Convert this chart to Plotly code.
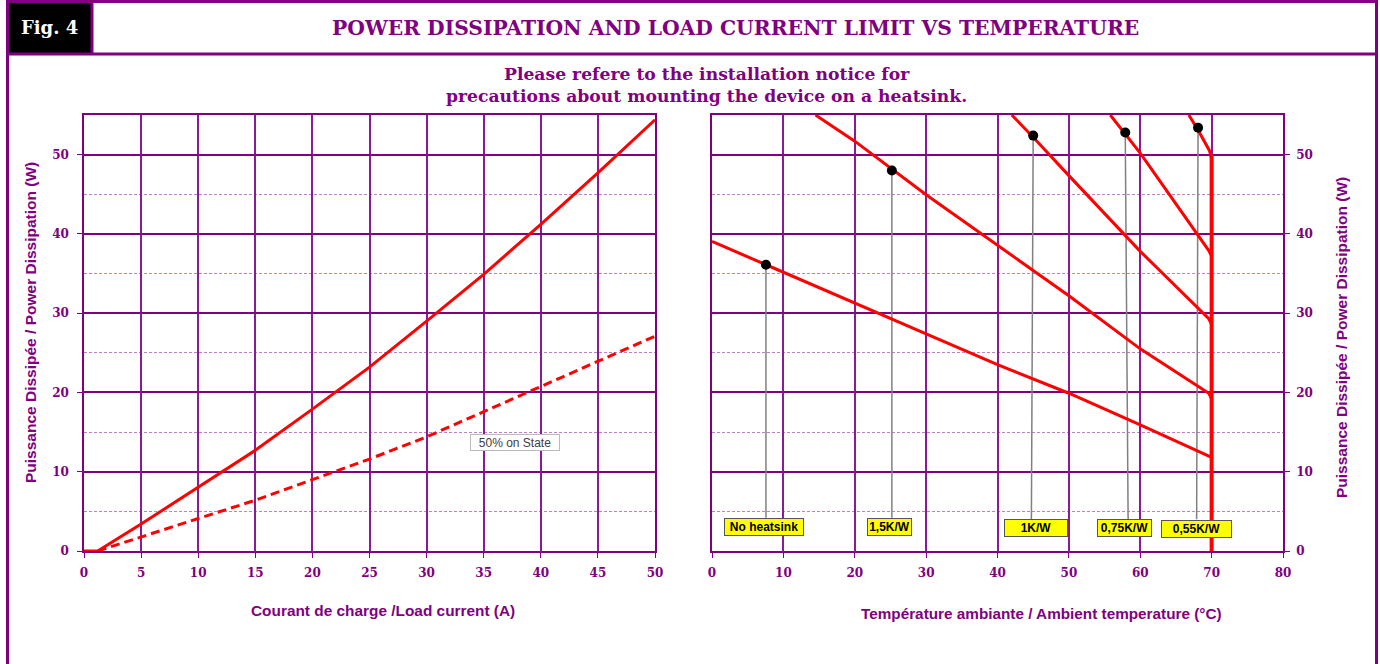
import plotly.graph_objects as go

PURPLE = "#800080"

# ---- Left chart: power dissipation vs load current ----
current_full = [0, 1.2, 5, 10, 15, 20, 25, 30, 35, 40, 45, 50]
power_full = [0, 0, 3.4, 8.0, 12.7, 17.9, 23.2, 29.0, 34.9, 41.2, 47.7, 54.4]
current_half = [1.2, 5, 10, 15, 20, 25, 30, 35, 40, 45, 50]
power_half = [0, 1.8, 4.1, 6.4, 9.0, 11.6, 14.4, 17.6, 20.75, 23.9, 27.1]

# ---- Right chart: power limit vs ambient temperature ----
t_none = [0, 10, 20, 30, 40, 50, 60, 70]
p_none = [39.05, 35.2, 31.35, 27.4, 23.5, 19.9, 15.9, 11.8]
t_15 = [14.5, 20, 30, 40, 50, 60, 69.6, 70]
p_15 = [55, 51.7, 44.95, 38.6, 32.2, 25.5, 19.9, 19.2]
t_1 = [42, 45, 50, 60, 69.6, 70]
p_1 = [55, 52.2, 47.35, 37.8, 29.3, 28.6]
t_075 = [55.8, 57.9, 60, 69.6, 70]
p_075 = [55, 52.6, 50.2, 37.9, 37.2]
t_055 = [66.8, 68.1, 69.7, 70]
p_055 = [55, 53.1, 50.5, 49.5]
t_limit = [70, 70]
p_limit = [50, 0]

labels = ["No heatsink", "1,5K/W", "1K/W", "0,75K/W", "0,55K/W"]
dot_t = [7.56, 25.2, 45.0, 57.9, 68.1]
dot_p = [36.1, 48.0, 52.4, 52.8, 53.4]
foot_t = [7.56, 25.2, 44.75, 58.3, 67.9]
foot_p = [4.2, 4.2, 4.0, 4.0, 4.0]
label_t = [7.29, 24.87, 45.39, 57.79, 67.88]
label_p = [2.97, 2.97, 2.84, 2.9, 2.78]
label_w = [76, 41, 60, 51, 67]

left_xticks = list(range(0, 51, 5))
right_xticks = list(range(0, 81, 10))
yticks = list(range(0, 51, 10))

fig = go.Figure()

fig.add_trace(go.Scatter(x=current_full, y=power_full, mode="lines",
                         line=dict(color="#FF0000", width=3), xaxis="x", yaxis="y"))
fig.add_trace(go.Scatter(x=current_half, y=power_half, mode="lines",
                         line=dict(color="#FF0000", width=3, dash="9px,5px"), xaxis="x", yaxis="y"))

# leader lines
for i in range(len(labels)):
    fig.add_trace(go.Scatter(x=[dot_t[i], foot_t[i]], y=[dot_p[i], foot_p[i]], mode="lines",
                             line=dict(color="#808080", width=1.5), xaxis="x2", yaxis="y2"))

for tt, pp in [(t_none, p_none), (t_15, p_15), (t_1, p_1), (t_075, p_075), (t_055, p_055)]:
    fig.add_trace(go.Scatter(x=tt, y=pp, mode="lines",
                             line=dict(color="#FF0000", width=3), xaxis="x2", yaxis="y2"))
fig.add_trace(go.Scatter(x=t_limit, y=p_limit, mode="lines",
                         line=dict(color="#FF0000", width=4), xaxis="x2", yaxis="y2"))
fig.add_trace(go.Scatter(x=dot_t, y=dot_p, mode="markers",
                         marker=dict(color="black", size=10), xaxis="x2", yaxis="y2"))

tickfont = dict(family="DejaVu Serif", size=12, color=PURPLE, weight="bold")
common_x = dict(showgrid=True, gridcolor="#8B1A9B", gridwidth=1.8, showline=True, linecolor=PURPLE,
                linewidth=1.5, mirror=True, ticks="outside", ticklen=5, tickcolor=PURPLE,
                tickwidth=1, tickfont=tickfont, zeroline=False, fixedrange=True,
                ticklabelstandoff=5, automargin=False)
common_y = dict(showgrid=True, gridcolor=PURPLE, gridwidth=1.5, showline=True, linecolor=PURPLE,
                linewidth=1.5, mirror=True, ticks="outside", ticklen=5, tickcolor=PURPLE,
                tickwidth=1, tickfont=tickfont, zeroline=False, range=[0, 55],
                tickvals=yticks, fixedrange=True, automargin=False,
                minor=dict(tickvals=[5, 15, 25, 35, 45], showgrid=True, gridcolor="#C080CC",
                           gridwidth=1.2, griddash="3px,2px", ticks=""))

W, H = 1380, 664
def px(x):
    return x / W
def py(y):
    return 1 - y / H

fig.update_layout(
    template="none",
    width=W, height=H, margin=dict(l=0, r=0, t=0, b=0, pad=0), autosize=False,
    paper_bgcolor="white", plot_bgcolor="white", showlegend=False,
    xaxis=dict(domain=[px(84), px(655)], range=[0, 50], tickvals=left_xticks, anchor="y", **common_x),
    yaxis=dict(domain=[py(551), py(115)], anchor="x", side="left", ticklabelstandoff=6, **common_y),
    xaxis2=dict(domain=[px(712), px(1283)], range=[0, 80], tickvals=right_xticks, anchor="y2", **common_x),
    yaxis2=dict(domain=[py(551), py(115)], anchor="x2", side="right", ticklabelstandoff=4, **common_y),
)

shapes = [
    dict(type="rect", xref="paper", yref="paper", x0=px(7), x1=px(92), y0=py(54), y1=py(0),
         fillcolor="black", line=dict(width=0), layer="above"),
    dict(type="rect", xref="paper", yref="paper", x0=px(7.5), x1=px(1376.5), y0=py(700), y1=py(1.5),
         line=dict(color=PURPLE, width=3), fillcolor="rgba(0,0,0,0)", layer="above"),
    dict(type="line", xref="paper", yref="paper", x0=px(7), x1=px(1377), y0=py(54), y1=py(54),
         line=dict(color=PURPLE, width=3), layer="above"),
    dict(type="line", xref="paper", yref="paper", x0=px(92), x1=px(92), y0=py(54), y1=py(0),
         line=dict(color=PURPLE, width=3), layer="above"),
]
fig.update_layout(shapes=shapes)

ann = [
    dict(text="Fig. 4", x=px(49), y=py(28), xref="paper", yref="paper", showarrow=False,
         font=dict(family="DejaVu Serif", size=18, color="white", weight="bold"),
         xanchor="center", yanchor="middle"),
    dict(text="POWER DISSIPATION AND LOAD CURRENT LIMIT VS TEMPERATURE", x=px(735), y=py(28),
         xref="paper", yref="paper", showarrow=False,
         font=dict(family="DejaVu Serif", size=20.3, color=PURPLE, weight="bold"),
         xanchor="center", yanchor="middle"),
    dict(text="Please refere to the installation notice for<br>precautions about mounting the device on a heatsink.",
         x=px(706), y=py(84.5), xref="paper", yref="paper", showarrow=False,
         font=dict(family="DejaVu Serif", size=17.2, color=PURPLE, weight="bold"),
         xanchor="center", yanchor="middle", align="center"),
    dict(text="Courant de charge /Load current (A)", x=px(383), y=py(610), xref="paper", yref="paper",
         showarrow=False, font=dict(family="Liberation Sans", size=15.4, color=PURPLE, weight="bold"),
         xanchor="center", yanchor="middle"),
    dict(text="Température ambiante / Ambient temperature (°C)", x=px(1041), y=py(613), xref="paper",
         yref="paper", showarrow=False,
         font=dict(family="Liberation Sans", size=15.3, color=PURPLE, weight="bold"),
         xanchor="center", yanchor="middle"),
    dict(text="Puissance Dissipée / Power Dissipation (W)", x=px(30), y=py(323), xref="paper",
         yref="paper", showarrow=False, textangle=-90,
         font=dict(family="Liberation Sans", size=15.5, color=PURPLE, weight="bold"),
         xanchor="center", yanchor="middle"),
    dict(text="Puissance Dissipée / Power Dissipation (W)", x=px(1341), y=py(338), xref="paper",
         yref="paper", showarrow=False, textangle=-90,
         font=dict(family="Liberation Sans", size=15.5, color=PURPLE, weight="bold"),
         xanchor="center", yanchor="middle"),
    dict(text="50% on State", x=37.74, y=13.7, xref="x", yref="y", showarrow=False,
         font=dict(family="Liberation Sans", size=12, color="#404040"),
         bgcolor="white", bordercolor="#BBBBBB", borderwidth=1, borderpad=1, width=86, height=13,
         xanchor="center", yanchor="middle"),
]
for i, lab in enumerate(labels):
    ann.append(dict(text=lab, x=label_t[i], y=label_p[i], xref="x2", yref="y2", showarrow=False,
                    font=dict(family="Liberation Sans", size=12, color="black", weight="bold"),
                    bgcolor="#FFFF00", bordercolor="#555555", borderwidth=1, borderpad=1,
                    width=label_w[i], height=14, xanchor="center", yanchor="middle"))
fig.update_layout(annotations=ann)

fig.write_html("out.html", config={"responsive": False, "displayModeBar": False},
               post_script="document.body.style.margin='0';document.body.style.overflow='hidden';")
